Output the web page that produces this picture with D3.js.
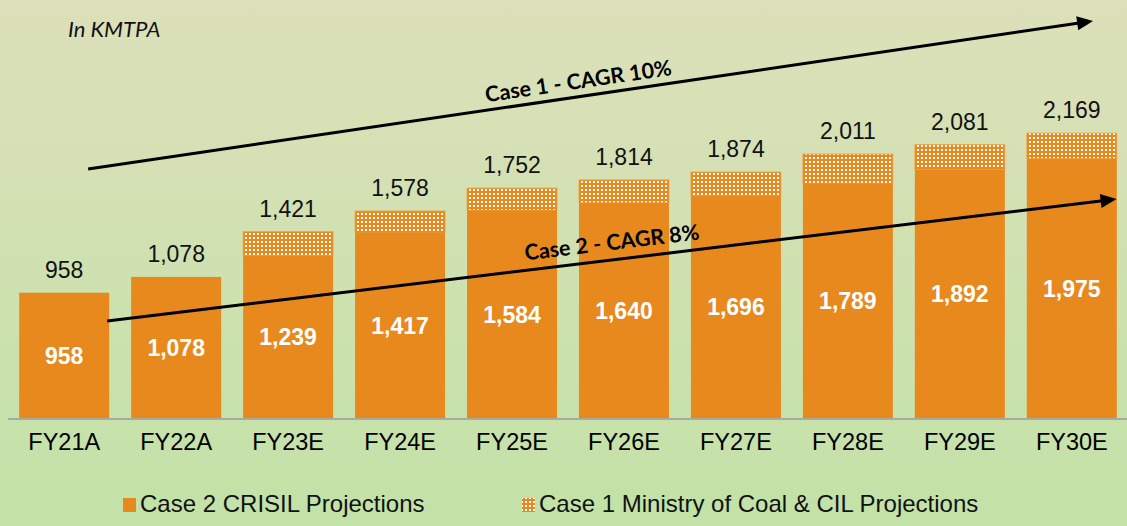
<!DOCTYPE html>
<html><head><meta charset="utf-8">
<script src="https://cdn.jsdelivr.net/npm/d3@7"></script>
<style>html,body{margin:0;padding:0;}svg{display:block;}</style>
</head><body>
<script>
const categories = ["FY21A","FY22A","FY23E","FY24E","FY25E","FY26E","FY27E","FY28E","FY29E","FY30E"];
const case2Values = [958,1078,1239,1417,1584,1640,1696,1789,1892,1975];
const case1Totals = [958,1078,1421,1578,1752,1814,1874,2011,2081,2169];
const legendLabels = ["Case 2 CRISIL Projections","Case 1 Ministry of Coal & CIL Projections"];
// annotation arrows in data units: x = category index, y = value
const arrowLabels = ["Case 1 - CAGR 10%","Case 2 - CAGR 8%"];
const arrowStartIdx = [0.214, 0.384];
const arrowStartVal = [1897, 744];
const arrowEndIdx = [9.19, 9.40];
const arrowEndVal = [3020, 1669];
const arrowLabelPos = [0.49, 0.502];

const W = 1127, H = 526;
const orange = "#e8891e";
const svg = d3.select("body").append("svg").attr("width", W).attr("height", H);
const defs = svg.append("defs");
const grad = defs.append("linearGradient").attr("id","bg").attr("x1",0).attr("y1",0).attr("x2",0).attr("y2",1);
grad.append("stop").attr("offset","0%").attr("stop-color","#dde0ba");
grad.append("stop").attr("offset","100%").attr("stop-color","#c2e2a7");
svg.append("rect").attr("width",W).attr("height",H).attr("fill","url(#bg)");

const pat = defs.append("pattern").attr("id","dots").attr("patternUnits","userSpaceOnUse")
  .attr("width",4).attr("height",4);
pat.append("rect").attr("width",4).attr("height",4).attr("fill",orange);
pat.append("rect").attr("x",1).attr("y",1).attr("width",2).attr("height",2).attr("fill","#ffffff");

const x = d3.scaleBand().domain(categories).range([8, 1128]).paddingInner(0.196).paddingOuter(0.1);
const y = d3.scaleLinear().domain([0, 3179]).range([419, 0]);
const xi = d3.scaleLinear().domain([0, categories.length-1])
  .range([x(categories[0]) + x.bandwidth()/2, x(categories[categories.length-1]) + x.bandwidth()/2]);

const data = categories.map((c,i)=>({c, base:case2Values[i], total:case1Totals[i]}));

// pattern (Case 1) segments
svg.append("g").selectAll("rect").data(data.filter(d=>d.total>d.base)).join("rect")
  .attr("x", d=>x(d.c)).attr("width", x.bandwidth())
  .attr("y", d=>y(d.total)).attr("height", d=>y(d.base)-y(d.total))
  .attr("fill","url(#dots)").attr("stroke","#f0a040").attr("stroke-width",0.8);

// solid (Case 2)
svg.append("g").selectAll("rect").data(data).join("rect")
  .attr("x", d=>x(d.c)).attr("width", x.bandwidth())
  .attr("y", d=>y(d.base)).attr("height", d=>y(0)-y(d.base))
  .attr("fill", orange);

// axis
const xAxis = svg.append("g").attr("transform",`translate(0,${y(0)})`)
  .call(d3.axisBottom(x).tickSize(0).tickPadding(14));
xAxis.select(".domain").attr("d","M8,0H1127").attr("stroke","#a8aaa0").attr("stroke-width",2);
xAxis.selectAll("text").attr("font-family","Liberation Sans, Arial, sans-serif")
  .attr("font-size",23.5).attr("fill","#000");

const fmt = d3.format(",");
// top labels
svg.append("g").selectAll("text").data(data).join("text")
  .attr("x", d=>x(d.c)+x.bandwidth()/2).attr("y", d=>y(d.total)-15)
  .attr("text-anchor","middle").attr("font-family","Liberation Sans, Arial, sans-serif")
  .attr("font-size",23).attr("fill","#111").text(d=>fmt(d.total));
// inner labels
svg.append("g").selectAll("text").data(data).join("text")
  .attr("x", d=>x(d.c)+x.bandwidth()/2).attr("y", d=>(y(d.base)+y(0))/2+8)
  .attr("text-anchor","middle").attr("font-family","Liberation Sans, Arial, sans-serif")
  .attr("font-weight","bold").attr("font-size",23).attr("fill","#fff").text(d=>fmt(d.base));

// unit label
svg.append("text").attr("x",68).attr("y",37).attr("font-family","Lato, sans-serif")
  .attr("font-style","italic").attr("font-size",22).attr("fill","#111").text("In KMTPA");

// arrows
arrowLabels.forEach((lab,i)=>{
  const x0 = xi(arrowStartIdx[i]), y0 = y(arrowStartVal[i]);
  const x1 = xi(arrowEndIdx[i]), y1 = y(arrowEndVal[i]);
  const ang = Math.atan2(y1-y0, x1-x0);
  const hl = 16, hw = 7;
  const bx = x1 - hl*Math.cos(ang), by = y1 - hl*Math.sin(ang);
  svg.append("line").attr("x1",x0).attr("y1",y0).attr("x2",bx+2*Math.cos(ang)).attr("y2",by+2*Math.sin(ang))
    .attr("stroke","#000").attr("stroke-width",3);
  const px = -Math.sin(ang), py = Math.cos(ang);
  svg.append("polygon").attr("points",
    `${x1},${y1} ${bx+hw*px},${by+hw*py} ${bx-hw*px},${by-hw*py}`).attr("fill","#000");
  const t = arrowLabelPos[i];
  const lx = x0 + (x1-x0)*t, ly = y0 + (y1-y0)*t;
  svg.append("text").attr("transform",`translate(${lx},${ly}) rotate(${ang*180/Math.PI})`)
    .attr("y", i===0 ? -8 : -10).attr("text-anchor","middle")
    .attr("font-family","Lato, sans-serif").attr("font-weight","bold").attr("font-size",21.5)
    .attr("fill","#000").text(lab);
});

// legend
const lg = svg.append("g");
const lx = [123, 522];
legendLabels.forEach((lab,i)=>{
  lg.append("rect").attr("x",lx[i]).attr("y",498).attr("width",13).attr("height",14)
    .attr("fill", i===0 ? orange : "url(#dots)");
  lg.append("text").attr("x",lx[i]+17).attr("y",512).attr("font-family","Liberation Sans, Arial, sans-serif")
    .attr("font-size",24).attr("fill","#111").text(lab);
});
</script>
</body></html>
